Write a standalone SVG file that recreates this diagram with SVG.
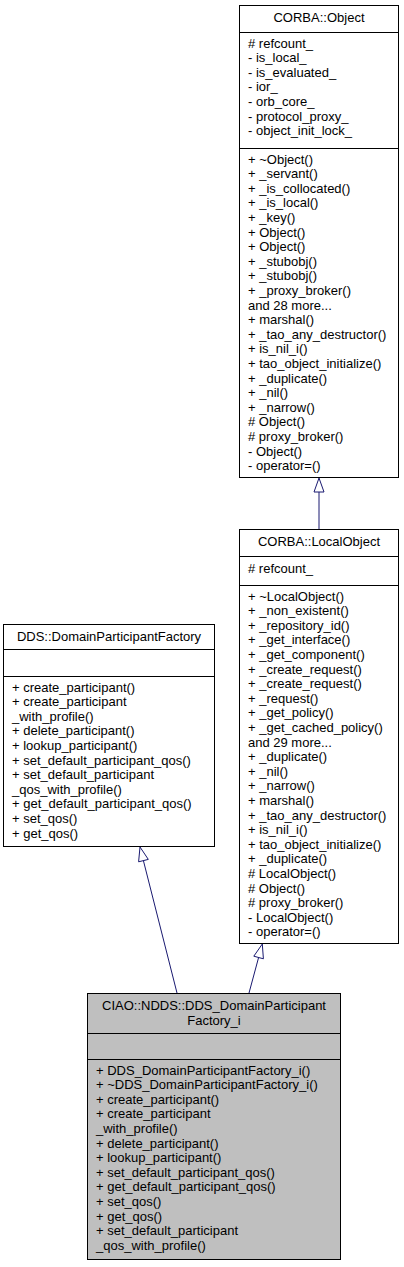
<svg xmlns="http://www.w3.org/2000/svg" width="404" height="1267" viewBox="0 0 404 1267">
<style>
.box{fill:#fff;stroke:#000;stroke-width:1}
.cur{fill:#bfbfbf;stroke:#000;stroke-width:1}
.sep{stroke:#000;stroke-width:1}
text{font-family:"Liberation Sans",Arial,Helvetica,sans-serif;font-size:13px;fill:#000}
.t{text-anchor:middle}
.edge{stroke:#191970;stroke-width:1;fill:none}
.head{fill:#fff;stroke:#191970;stroke-width:1}
</style>
<rect x="0" y="0" width="404" height="1267" fill="#fff"/>
<g id="node-corba-object">
<rect class="box" x="239.5" y="5.5" width="159" height="472"/>
<line class="sep" x1="239.5" y1="32.5" x2="398.5" y2="32.5"/>
<line class="sep" x1="239.5" y1="148.5" x2="398.5" y2="148.5"/>
<text class="t" x="319" y="22">CORBA::Object</text>
<text x="248" y="47.5"><tspan x="248" dy="0"># refcount_</tspan><tspan x="248" dy="14.6">- is_local_</tspan><tspan x="248" dy="14.6">- is_evaluated_</tspan><tspan x="248" dy="14.6">- ior_</tspan><tspan x="248" dy="14.6">- orb_core_</tspan><tspan x="248" dy="14.6">- protocol_proxy_</tspan><tspan x="248" dy="14.6">- object_init_lock_</tspan></text>
<text x="248" y="163.5"><tspan x="248" dy="0">+ ~Object()</tspan><tspan x="248" dy="14.6">+ _servant()</tspan><tspan x="248" dy="14.6">+ _is_collocated()</tspan><tspan x="248" dy="14.6">+ _is_local()</tspan><tspan x="248" dy="14.6">+ _key()</tspan><tspan x="248" dy="14.6">+ Object()</tspan><tspan x="248" dy="14.6">+ Object()</tspan><tspan x="248" dy="14.6">+ _stubobj()</tspan><tspan x="248" dy="14.6">+ _stubobj()</tspan><tspan x="248" dy="14.6">+ _proxy_broker()</tspan><tspan x="248" dy="14.6">and 28 more...</tspan><tspan x="248" dy="14.6">+ marshal()</tspan><tspan x="248" dy="14.6">+ _tao_any_destructor()</tspan><tspan x="248" dy="14.6">+ is_nil_i()</tspan><tspan x="248" dy="14.6">+ tao_object_initialize()</tspan><tspan x="248" dy="14.6">+ _duplicate()</tspan><tspan x="248" dy="14.6">+ _nil()</tspan><tspan x="248" dy="14.6">+ _narrow()</tspan><tspan x="248" dy="14.6"># Object()</tspan><tspan x="248" dy="14.6"># proxy_broker()</tspan><tspan x="248" dy="14.6">- Object()</tspan><tspan x="248" dy="14.6">- operator=()</tspan></text>
</g>
<g id="node-corba-localobject">
<rect class="box" x="239.5" y="529.5" width="159" height="414"/>
<line class="sep" x1="239.5" y1="556.5" x2="398.5" y2="556.5"/>
<line class="sep" x1="239.5" y1="585.5" x2="398.5" y2="585.5"/>
<text class="t" x="319" y="546">CORBA::LocalObject</text>
<text x="248" y="572.5"># refcount_</text>
<text x="248" y="600.5"><tspan x="248" dy="0">+ ~LocalObject()</tspan><tspan x="248" dy="14.6">+ _non_existent()</tspan><tspan x="248" dy="14.6">+ _repository_id()</tspan><tspan x="248" dy="14.6">+ _get_interface()</tspan><tspan x="248" dy="14.6">+ _get_component()</tspan><tspan x="248" dy="14.6">+ _create_request()</tspan><tspan x="248" dy="14.6">+ _create_request()</tspan><tspan x="248" dy="14.6">+ _request()</tspan><tspan x="248" dy="14.6">+ _get_policy()</tspan><tspan x="248" dy="14.6">+ _get_cached_policy()</tspan><tspan x="248" dy="14.6">and 29 more...</tspan><tspan x="248" dy="14.6">+ _duplicate()</tspan><tspan x="248" dy="14.6">+ _nil()</tspan><tspan x="248" dy="14.6">+ _narrow()</tspan><tspan x="248" dy="14.6">+ marshal()</tspan><tspan x="248" dy="14.6">+ _tao_any_destructor()</tspan><tspan x="248" dy="14.6">+ is_nil_i()</tspan><tspan x="248" dy="14.6">+ tao_object_initialize()</tspan><tspan x="248" dy="14.6">+ _duplicate()</tspan><tspan x="248" dy="14.6"># LocalObject()</tspan><tspan x="248" dy="14.6"># Object()</tspan><tspan x="248" dy="14.6"># proxy_broker()</tspan><tspan x="248" dy="14.6">- LocalObject()</tspan><tspan x="248" dy="14.6">- operator=()</tspan></text>
</g>
<g id="node-dds-factory">
<rect class="box" x="3.5" y="624.5" width="211" height="222"/>
<line class="sep" x1="3.5" y1="649.5" x2="214.5" y2="649.5"/>
<line class="sep" x1="3.5" y1="676.5" x2="214.5" y2="676.5"/>
<text class="t" x="109" y="641">DDS::DomainParticipantFactory</text>
<text x="12" y="691.5"><tspan x="12" dy="0">+ create_participant()</tspan><tspan x="12" dy="14.6">+ create_participant</tspan><tspan x="12" dy="14.6">_with_profile()</tspan><tspan x="12" dy="14.6">+ delete_participant()</tspan><tspan x="12" dy="14.6">+ lookup_participant()</tspan><tspan x="12" dy="14.6">+ set_default_participant_qos()</tspan><tspan x="12" dy="14.6">+ set_default_participant</tspan><tspan x="12" dy="14.6">_qos_with_profile()</tspan><tspan x="12" dy="14.6">+ get_default_participant_qos()</tspan><tspan x="12" dy="14.6">+ set_qos()</tspan><tspan x="12" dy="14.6">+ get_qos()</tspan></text>
</g>
<g id="node-ciao-factory-i">
<rect class="cur" x="87.5" y="993.5" width="253" height="266"/>
<line class="sep" x1="87.5" y1="1033.5" x2="340.5" y2="1033.5"/>
<line class="sep" x1="87.5" y1="1059.5" x2="340.5" y2="1059.5"/>
<text class="t" x="214" y="1010"><tspan x="214" dy="0">CIAO::NDDS::DDS_DomainParticipant</tspan><tspan x="214" dy="14.6">Factory_i</tspan></text>
<text x="96" y="1074.5"><tspan x="96" dy="0">+ DDS_DomainParticipantFactory_i()</tspan><tspan x="96" dy="14.6">+ ~DDS_DomainParticipantFactory_i()</tspan><tspan x="96" dy="14.6">+ create_participant()</tspan><tspan x="96" dy="14.6">+ create_participant</tspan><tspan x="96" dy="14.6">_with_profile()</tspan><tspan x="96" dy="14.6">+ delete_participant()</tspan><tspan x="96" dy="14.6">+ lookup_participant()</tspan><tspan x="96" dy="14.6">+ set_default_participant_qos()</tspan><tspan x="96" dy="14.6">+ get_default_participant_qos()</tspan><tspan x="96" dy="14.6">+ set_qos()</tspan><tspan x="96" dy="14.6">+ get_qos()</tspan><tspan x="96" dy="14.6">+ set_default_participant</tspan><tspan x="96" dy="14.6">_qos_with_profile()</tspan></text>
</g>
<g id="connectors">
<line class="edge" x1="319" y1="492" x2="319" y2="529"/>
<polygon class="head" points="319,478 324,492 314,492"/>
<line class="edge" x1="143.4" y1="860.6" x2="177" y2="993"/>
<polygon class="head" points="140,847 148.3,859.4 138.6,861.8"/>
<line class="edge" x1="258.6" y1="957.5" x2="249" y2="993"/>
<polygon class="head" points="262.3,944 263.4,958.8 253.8,956.2"/>
</g>
</svg>
